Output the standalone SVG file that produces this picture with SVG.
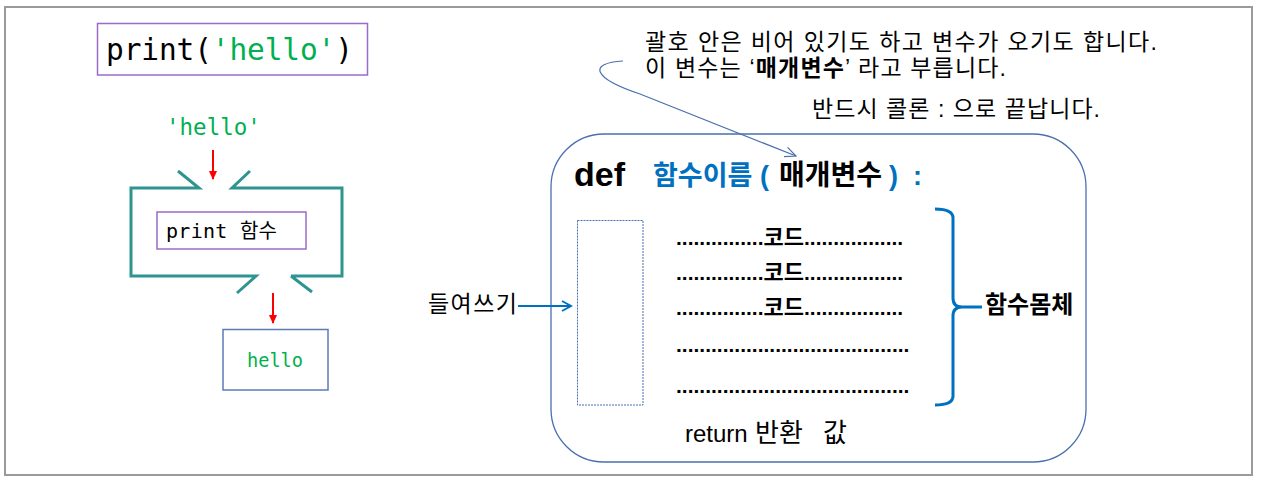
<svg xmlns="http://www.w3.org/2000/svg" width="1261" height="485" viewBox="0 0 1261 485">
<style>
.mono{font-family:"DejaVu Sans Mono","Noto Sans CJK KR",monospace}
.kr{font-family:"Liberation Sans","Noto Sans CJK KR",sans-serif}
.krb{font-family:"Liberation Sans","Noto Sans CJK KR",sans-serif;font-weight:bold}
.green{fill:#00b050}
.blue{fill:#0070c0}
.pbox{fill:#fff;stroke:#9b6bc9;stroke-width:1.5}
</style>
<defs>
<marker id="redHead" markerWidth="10" markerHeight="10" refX="8" refY="5" orient="auto" markerUnits="userSpaceOnUse">
<path d="M0,1 L9,5 L0,9 Z" fill="#ff0000"/>
</marker>
<marker id="blueOpen" markerWidth="12" markerHeight="12" refX="10" refY="6" orient="auto" markerUnits="userSpaceOnUse">
<path d="M1,1 L10,6 L1,11" fill="none" stroke="#0070c0" stroke-width="2"/>
</marker>
<marker id="thinOpen" markerWidth="14" markerHeight="12" refX="12" refY="6" orient="auto" markerUnits="userSpaceOnUse">
<path d="M1,1 L12,6 L1,11" fill="none" stroke="#4a6fb0" stroke-width="1.2"/>
</marker>
</defs>
<rect x="0" y="0" width="1261" height="485" fill="#fff"/>
<rect id="frame" x="5" y="7" width="1247" height="468" fill="none" stroke="#9a9a9a" stroke-width="2"/>

<g id="code-box">
<rect class="pbox" x="97.5" y="23.5" width="270" height="51.5"/>
<text class="mono" x="106" y="60" font-size="29.5" textLength="247">print(<tspan class="green">'hello'</tspan>)</text>
</g>

<g id="arg-label">
<text class="mono green" x="166" y="135" font-size="22.5">'hello'</text>
</g>

<g id="function-shape">
<path d="M178,171 L199,188 L131,188 L131,276 L256,276 L237,293 M291,276 L312,292 M291,276 L342,276 L342,188 L232,188 L250,171" fill="none" stroke="#2e9490" stroke-width="3" stroke-linejoin="miter"/>
<rect class="pbox" x="157" y="212" width="149" height="37"/>
<text class="mono" x="166" y="238" font-size="20" textLength="111">print 함수</text>
</g>

<g id="output-box">
<rect x="223" y="329.5" width="105" height="60.5" fill="#fff" stroke="#5b7bb5" stroke-width="1.5"/>
<text class="mono green" x="247" y="367" font-size="18.6">hello</text>
</g>

<g id="note-param">
<text class="kr" x="645" y="50" font-size="23" textLength="512">괄호 안은 비어 있기도 하고 변수가 오기도 합니다.</text>
<text class="kr" x="645" y="76" font-size="23" textLength="361">이 변수는 ‘<tspan font-weight="bold">매개변수</tspan>’ 라고 부릅니다.</text>
</g>
<g id="note-colon">
<text class="kr" x="812" y="117" font-size="23" textLength="288">반드시 콜론 : 으로 끝납니다.</text>
</g>

<g id="def-block">
<rect x="551" y="134" width="535" height="328" rx="53" ry="53" fill="none" stroke="#4a6fb0" stroke-width="1.3"/>
<text class="krb" x="574" y="186" font-size="34">def</text>
<text class="krb" y="185" font-size="27"><tspan class="blue" x="653">함수이름</tspan><tspan class="blue" x="760">(</tspan><tspan x="779" font-size="28">매개변수</tspan><tspan class="blue" x="889">)</tspan><tspan class="blue" x="913">:</tspan></text>
<rect x="577.5" y="220.5" width="65.5" height="184.5" fill="none" stroke="#4a6fb0" stroke-width="1" stroke-dasharray="2,1"/>
<text class="krb" x="676" y="245" font-size="21">...............<tspan font-size="22">코드</tspan>.................</text>
<text class="krb" x="676" y="280" font-size="21">...............<tspan font-size="22">코드</tspan>.................</text>
<text class="krb" x="676" y="315" font-size="21">...............<tspan font-size="22">코드</tspan>.................</text>
<text class="krb" x="676" y="352" font-size="21">........................................</text>
<text class="krb" x="676" y="393" font-size="21">........................................</text>
<text class="kr" y="442" font-size="24"><tspan x="685">return</tspan><tspan x="755" font-size="26">반환</tspan><tspan x="823" font-size="26">값</tspan></text>
</g>

<g id="indent-label">
<text class="kr" x="428" y="312" font-size="23" textLength="89">들여쓰기</text>
</g>

<g id="body-label">
<text class="krb" x="985" y="313" font-size="24">함수몸체</text>
</g>

<g id="connectors">
<line x1="213" y1="150" x2="213" y2="179" stroke="#ff0000" stroke-width="2" marker-end="url(#redHead)"/>
<line x1="273" y1="293" x2="273" y2="323" stroke="#ff0000" stroke-width="2" marker-end="url(#redHead)"/>
<line x1="518" y1="306" x2="571" y2="306" stroke="#0070c0" stroke-width="2" marker-end="url(#blueOpen)"/>
<path d="M623,61 C588,63 592,78 640,94 Q720,126 796,156" fill="none" stroke="#4a6fb0" stroke-width="1.2" marker-end="url(#thinOpen)"/>
<path d="M935,209 Q953,209 953,218 L953,298 Q953,307 962,307 L982,307 M962,307 Q953,307 953,316 L953,396 Q953,405 935,405" fill="none" stroke="#0070c0" stroke-width="3"/>
</g>
</svg>
